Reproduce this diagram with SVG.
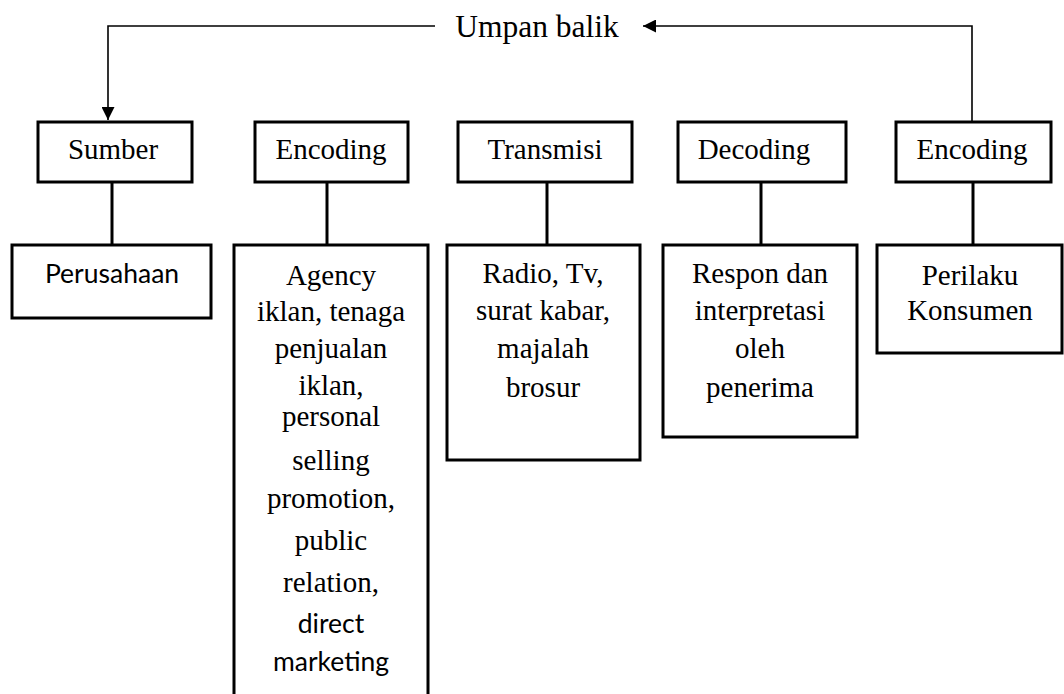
<svg xmlns="http://www.w3.org/2000/svg" width="1064" height="694" viewBox="0 0 1064 694">
<style>
.box{fill:#fff;stroke:#000;stroke-width:3}
.con{fill:none;stroke:#000;stroke-width:3}
.fb{fill:none;stroke:#000;stroke-width:1.6}
.t{font-family:"Liberation Serif","Times New Roman",serif;font-size:29px;fill:#000;text-anchor:middle}
.s{font-family:Lato,"Liberation Sans",sans-serif;font-size:26.5px;fill:#000;text-anchor:middle}
</style>
<defs>
<marker id="ah" viewBox="0 0 10 10" refX="10" refY="5" markerWidth="15" markerHeight="13" markerUnits="userSpaceOnUse" orient="auto">
<path d="M0,0 L10,5 L0,10 Z" fill="#000"/>
</marker>
</defs>
<rect width="1064" height="694" fill="#fff"/>
<g id="connectors">
<path class="fb" d="M435,26 H108 V120" marker-end="url(#ah)"/>
<path class="fb" d="M972,123 V26 H643" marker-end="url(#ah)"/>
<line class="con" x1="112" y1="182" x2="112" y2="245"/>
<line class="con" x1="327" y1="182" x2="327" y2="245"/>
<line class="con" x1="547" y1="182" x2="547" y2="245"/>
<line class="con" x1="761" y1="182" x2="761" y2="245"/>
<line class="con" x1="973" y1="182" x2="973" y2="245"/>
</g>
<g id="umpan-balik"><text class="t" x="537" y="37" style="font-size:31.5px">Umpan balik</text></g>
<g id="sumber"><rect class="box" x="38" y="122" width="154" height="60"/><text class="t" x="113" y="159">Sumber</text></g>
<g id="encoding1"><rect class="box" x="255" y="122" width="153" height="60"/><text class="t" x="331" y="159">Encoding</text></g>
<g id="transmisi"><rect class="box" x="458" y="122" width="174" height="60"/><text class="t" x="545" y="159">Transmisi</text></g>
<g id="decoding"><rect class="box" x="678" y="122" width="168" height="60"/><text class="t" x="754" y="159">Decoding</text></g>
<g id="encoding2"><rect class="box" x="896" y="122" width="155" height="60"/><text class="t" x="972" y="159">Encoding</text></g>
<g id="perusahaan"><rect class="box" x="12" y="245" width="199" height="73"/><text class="s" x="112" y="283">Perusahaan</text></g>
<g id="agency">
<path class="con" d="M234,696 V245 H428 V696" style="fill:#fff"/>
<text class="t" x="331" y="285">Agency</text>
<text class="t" x="331" y="321">iklan, tenaga</text>
<text class="t" x="331" y="358">penjualan</text>
<text class="t" x="331" y="395">iklan,</text>
<text class="t" x="331" y="426">personal</text>
<text class="t" x="331" y="470">selling</text>
<text class="t" x="331" y="508">promotion,</text>
<text class="t" x="331" y="550">public</text>
<text class="t" x="331" y="592">relation,</text>
<text class="s" x="331" y="633">direct</text>
<text class="s" x="331" y="671">marketing</text>
</g>
<g id="media"><rect class="box" x="447" y="245" width="193" height="215"/>
<text class="t" x="543" y="283">Radio, Tv,</text>
<text class="t" x="543" y="320">surat kabar,</text>
<text class="t" x="543" y="358">majalah</text>
<text class="t" x="543" y="397">brosur</text>
</g>
<g id="respon"><rect class="box" x="663" y="245" width="194" height="192"/>
<text class="t" x="760" y="283">Respon dan</text>
<text class="t" x="760" y="320">interpretasi</text>
<text class="t" x="760" y="358">oleh</text>
<text class="t" x="760" y="397">penerima</text>
</g>
<g id="perilaku"><rect class="box" x="877" y="245" width="185" height="108"/>
<text class="t" x="970" y="285">Perilaku</text>
<text class="t" x="970" y="320">Konsumen</text>
</g>
</svg>
